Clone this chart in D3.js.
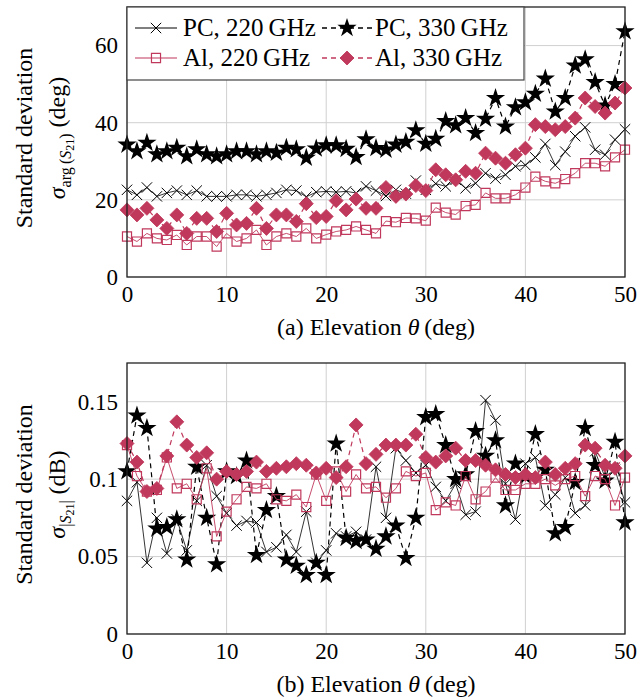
<!DOCTYPE html>
<html>
<head>
<meta charset="utf-8">
<script src="https://cdn.jsdelivr.net/npm/d3@7"></script>
<style>
body { margin: 0; background: #fff; }
</style>
</head>
<body>
<div id="chart"></div>
<script>
// Elevation angle (deg), one measurement per degree
var elevation = d3.range(0, 51);

// (a) phase standard deviation (deg)
var pc220Arg = [22.6, 21.3, 23.2, 20.9, 21.8, 22.4, 21.3, 22.4, 20.9, 20.9,
                20.9, 21.3, 21.3, 20.9, 21.3, 21.8, 22.6, 22.4, 20.8, 22.0,
                22.2, 22.0, 22.2, 21.8, 23.5, 22.4, 21.0, 22.6, 21.6, 25.0,
                22.6, 24.2, 23.5, 25.2, 23.0, 24.3, 26.9, 25.5, 26.5, 28.7,
                29.0, 31.0, 34.5, 29.0, 32.5, 36.5, 38.8, 33.0, 31.7, 35.6, 38.3];
var pc330Arg = [34.3, 32.6, 34.8, 31.8, 32.6, 33.5, 31.3, 33.1, 31.8, 31.3,
                31.8, 32.6, 32.6, 31.8, 32.6, 32.2, 33.5, 33.1, 30.9, 33.3,
                34.1, 34.1, 33.2, 31.1, 35.7, 33.4, 33.0, 34.3, 35.0, 38.0,
                34.5, 35.8, 40.4, 39.3, 41.2, 37.3, 41.0, 46.4, 39.0, 44.0,
                45.3, 47.5, 51.4, 42.9, 46.4, 54.8, 56.4, 50.5, 44.4, 50.0, 63.7];
var al220Arg = [10.5, 9.2, 11.3, 10.0, 9.6, 10.9, 8.3, 10.5, 10.5, 7.9,
                11.3, 9.2, 10.0, 12.2, 8.3, 10.5, 11.3, 10.5, 12.6, 10.0,
                11.0, 11.8, 12.2, 13.1, 12.2, 11.3, 14.5, 14.2, 15.3, 15.2,
                14.6, 18.0, 16.7, 16.2, 18.4, 18.7, 21.8, 20.4, 20.4, 21.3,
                23.2, 26.0, 24.8, 24.3, 25.4, 26.9, 29.5, 29.5, 28.7, 31.0, 33.0];
var al330Arg = [17.4, 16.1, 17.8, 14.8, 12.6, 16.1, 11.3, 15.2, 15.2, 11.8,
                16.5, 13.5, 13.9, 17.8, 12.6, 16.1, 16.1, 14.4, 19.0, 15.4,
                15.7, 19.8, 17.4, 20.2, 17.8, 17.8, 23.2, 20.9, 21.5, 23.7,
                22.4, 27.8, 26.5, 25.2, 27.4, 26.9, 32.1, 30.8, 29.5, 31.7,
                33.4, 39.5, 39.0, 38.2, 39.0, 41.2, 46.4, 44.2, 42.5, 45.1, 49.0];

// (b) magnitude standard deviation (dB)
var pc220Mag = [0.086, 0.098, 0.046, 0.075, 0.052, 0.074, 0.054, 0.086, 0.109, 0.089,
                0.078, 0.070, 0.073, 0.072, 0.053, 0.056, 0.064, 0.053, 0.079, 0.046,
                0.054, 0.065, 0.063, 0.066, 0.061, 0.108, 0.075, 0.120, 0.112, 0.104,
                0.109, 0.095, 0.086, 0.097, 0.077, 0.079, 0.151, 0.138, 0.097, 0.074,
                0.110, 0.114, 0.083, 0.090, 0.101, 0.078, 0.083, 0.118, 0.101, 0.106, 0.085];
var pc330Mag = [0.105, 0.141, 0.133, 0.068, 0.069, 0.074, 0.048, 0.108, 0.075, 0.045,
                0.105, 0.102, 0.112, 0.051, 0.080, 0.089, 0.048, 0.044, 0.038, 0.046,
                0.038, 0.123, 0.062, 0.060, 0.061, 0.055, 0.063, 0.070, 0.049, 0.075,
                0.140, 0.142, 0.122, 0.100, 0.103, 0.131, 0.115, 0.125, 0.083, 0.110,
                0.102, 0.129, 0.106, 0.065, 0.069, 0.098, 0.133, 0.109, 0.099, 0.124, 0.072];
var al220Mag = [0.122, 0.102, 0.092, 0.093, 0.114, 0.094, 0.097, 0.087, 0.107, 0.063,
                0.079, 0.087, 0.095, 0.094, 0.097, 0.087, 0.086, 0.090, 0.082, 0.103,
                0.086, 0.105, 0.092, 0.103, 0.094, 0.095, 0.088, 0.094, 0.105, 0.102,
                0.104, 0.080, 0.085, 0.083, 0.102, 0.087, 0.092, 0.101, 0.093, 0.093,
                0.097, 0.097, 0.100, 0.096, 0.100, 0.102, 0.089, 0.102, 0.100, 0.083, 0.101];
var al330Mag = [0.123, 0.111, 0.092, 0.094, 0.115, 0.137, 0.122, 0.114, 0.117, 0.100,
                0.105, 0.103, 0.105, 0.111, 0.105, 0.107, 0.108, 0.110, 0.109, 0.104,
                0.107, 0.101, 0.108, 0.135, 0.110, 0.116, 0.122, 0.122, 0.122, 0.129,
                0.114, 0.111, 0.115, 0.120, 0.112, 0.112, 0.109, 0.106, 0.103, 0.101,
                0.103, 0.101, 0.111, 0.103, 0.107, 0.110, 0.122, 0.120, 0.109, 0.107, 0.115];

var seriesNames = ["PC, 220\u2009GHz", "PC, 330\u2009GHz", "Al, 220\u2009GHz", "Al, 330\u2009GHz"];
var xTicks = [0, 10, 20, 30, 40, 50];
var argTicks = [0, 20, 40, 60];
var magTicks = [0, 0.05, 0.1, 0.15];

var serifFont = "'Liberation Serif', 'DejaVu Serif', serif";
var pink = "#c0395c";
var styles = [
  {marker: "times",   color: "#000", dash: null,  lw: 0.8},
  {marker: "star",    color: "#000", dash: "5,4", lw: 1.2},
  {marker: "square",  color: pink,   dash: null,  lw: 0.9},
  {marker: "diamond", color: pink,   dash: "5,4", lw: 1.2}
];

var width = 639, height = 700;
var xScale = d3.scaleLinear().domain([0, 50]).range([127, 625]);

var svg = d3.select("#chart").append("svg")
  .attr("width", width)
  .attr("height", height)
  .style("font-family", serifFont);

function drawMarker(g, type, x, y, color) {
  var m;
  if (type == "times") {
    m = g.append("path").attr("d", d3.symbol(d3.symbolTimes, 72)())
      .attr("fill", "none").attr("stroke", color).attr("stroke-width", 1);
  } else if (type == "star") {
    m = g.append("path").attr("d", d3.symbol(d3.symbolStar, 115)())
      .attr("fill", color);
  } else if (type == "square") {
    m = g.append("path").attr("d", d3.symbol(d3.symbolSquare, 82)())
      .attr("fill", "none").attr("stroke", color).attr("stroke-width", 1.2);
  } else {
    m = g.append("path").attr("d", d3.symbol(d3.symbolSquare, 98)())
      .attr("fill", color).attr("stroke", color).attr("stroke-width", 0.8);
  }
  m.attr("transform", "translate(" + x + "," + y + ")" + (type == "diamond" ? " rotate(45)" : ""));
}

function drawPanel(opt) {
  var yScale = d3.scaleLinear().domain(opt.yDomain).range([opt.bottom, opt.top]);
  var g = svg.append("g");

  // grid
  g.selectAll(".vgrid").data(xTicks).enter().append("line")
    .attr("x1", function(d){ return xScale(d); }).attr("x2", function(d){ return xScale(d); })
    .attr("y1", opt.top).attr("y2", opt.bottom)
    .attr("stroke", "#d0d0d0").attr("stroke-width", 1);
  g.selectAll(".hgrid").data(opt.yTicks).enter().append("line")
    .attr("y1", function(d){ return yScale(d); }).attr("y2", function(d){ return yScale(d); })
    .attr("x1", 127).attr("x2", 625)
    .attr("stroke", "#d0d0d0").attr("stroke-width", 1);

  // axes (labels only, frame drawn separately)
  var xa = g.append("g").attr("transform", "translate(0," + opt.bottom + ")")
    .call(d3.axisBottom(xScale).tickValues(xTicks).tickSize(0).tickPadding(9));
  var ya = g.append("g").attr("transform", "translate(127,0)")
    .call(d3.axisLeft(yScale).tickValues(opt.yTicks).tickSize(0).tickPadding(9)
      .tickFormat(opt.fmt));
  [xa, ya].forEach(function(a){
    a.select(".domain").remove();
    a.attr("font-family", serifFont).attr("font-size", 23);
    a.selectAll("text").attr("fill", "#000");
  });

  // series
  opt.data.forEach(function(vals, si) {
    var st = styles[si];
    var line = d3.line()
      .x(function(d, i){ return xScale(elevation[i]); })
      .y(function(d){ return yScale(d); });
    g.append("path").datum(vals)
      .attr("d", line)
      .attr("fill", "none")
      .attr("stroke", st.color)
      .attr("stroke-width", st.lw)
      .attr("stroke-dasharray", st.dash);
    var mg = g.append("g");
    vals.forEach(function(v, i) {
      drawMarker(mg, st.marker, xScale(elevation[i]), yScale(v), st.color);
    });
  });

  // frame
  g.append("rect")
    .attr("x", 127).attr("y", opt.top)
    .attr("width", 498).attr("height", opt.bottom - opt.top)
    .attr("fill", "none").attr("stroke", "#222").attr("stroke-width", 1.3);

  // x label
  var xl = g.append("text")
    .attr("x", 376).attr("y", opt.bottom + 58)
    .attr("text-anchor", "middle").attr("font-size", 24);
  xl.append("tspan").text(opt.tag + " Elevation ");
  xl.append("tspan").attr("font-style", "italic").text("\u03b8");
  xl.append("tspan").text("\u2009(deg)");

  // y label, two lines
  var cy = (opt.top + opt.bottom) / 2 - 4;
  g.append("text")
    .attr("transform", "translate(32," + cy + ") rotate(-90)")
    .attr("text-anchor", "middle").attr("font-size", 24)
    .text("Standard deviation");
  var yl = g.append("text")
    .attr("transform", "translate(65," + cy + ") rotate(-90)")
    .attr("text-anchor", "middle").attr("font-size", 24);
  opt.sigma(yl);

  return g;
}

function sigmaArg(t) {
  t.append("tspan").attr("font-style", "italic").text("\u03c3");
  t.append("tspan").attr("font-size", 16).attr("dy", 6).text("arg\u2009(");
  t.append("tspan").attr("font-size", 16).attr("font-style", "italic").text("S");
  t.append("tspan").attr("font-size", 12).attr("dy", 3).text("21");
  t.append("tspan").attr("font-size", 16).attr("dy", -3).text(")");
  t.append("tspan").attr("dy", -6).text(" (deg)");
}

function sigmaMag(t) {
  t.append("tspan").attr("font-style", "italic").text("\u03c3");
  t.append("tspan").attr("font-size", 16).attr("dy", 6).text("|");
  t.append("tspan").attr("font-size", 16).attr("font-style", "italic").text("S");
  t.append("tspan").attr("font-size", 12).attr("dy", 3).text("21");
  t.append("tspan").attr("font-size", 16).attr("dy", -3).text("|");
  t.append("tspan").attr("dy", -6).text(" (dB)");
}

var topPanel = drawPanel({
  top: 7, bottom: 277, yDomain: [0, 70], yTicks: argTicks,
  fmt: d3.format("d"), tag: "(a)", sigma: sigmaArg,
  data: [pc220Arg, pc330Arg, al220Arg, al330Arg]
});

drawPanel({
  top: 363, bottom: 634, yDomain: [0, 0.175], yTicks: magTicks,
  fmt: function(d){ return d === 0 ? "0" : String(+d.toFixed(2)); },
  tag: "(b)", sigma: sigmaMag,
  data: [pc220Mag, pc330Mag, al220Mag, al330Mag]
});

// legend in top panel
var legend = topPanel.append("g");
legend.append("rect")
  .attr("x", 127).attr("y", 7).attr("width", 397).attr("height", 73)
  .attr("fill", "#fff").attr("stroke", "#444").attr("stroke-width", 1.2);

var colLine = [[135, 177], [322, 372]];
var colText = [183, 375];
var rowY = [28, 58];
seriesNames.forEach(function(name, si) {
  var col = si % 2, row = Math.floor(si / 2);
  var st = styles[si];
  var y = rowY[row];
  legend.append("line")
    .attr("x1", colLine[col][0]).attr("x2", colLine[col][1])
    .attr("y1", y).attr("y2", y)
    .attr("stroke", st.color).attr("stroke-width", st.lw + 0.2)
    .attr("stroke-dasharray", st.dash);
  drawMarker(legend, st.marker, (colLine[col][0] + colLine[col][1]) / 2, y, st.color);
  legend.append("text")
    .attr("x", colText[col]).attr("y", y + 8)
    .attr("font-size", 25)
    .text(name);
});
</script>
</body>
</html>
